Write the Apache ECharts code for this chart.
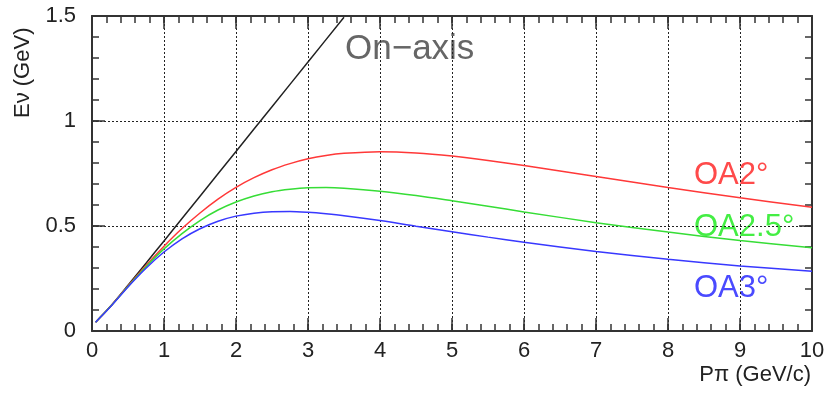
<!DOCTYPE html>
<html>
<head>
<meta charset="utf-8">
<script src="https://cdn.jsdelivr.net/npm/echarts@6/dist/echarts.min.js"></script>
<style>
  html, body { margin: 0; padding: 0; background: #fff; }
  #chart { width: 828px; height: 394px; }
</style>
</head>
<body>
<div id="chart"></div>
<script>
// pion momentum (GeV/c) sampled along the curves
const pion = [0.05, 0.25, 0.5, 0.75, 1, 1.25, 1.5, 1.75, 2, 2.25, 2.5, 2.75, 3, 3.25, 3.5, 4, 4.5, 5, 5.5, 6, 7, 8, 9, 10];
// neutrino energy (GeV) for each off-axis angle
const oa2 = [0.042, 0.114, 0.214, 0.312, 0.404, 0.488, 0.562, 0.628, 0.684, 0.730, 0.768, 0.797, 0.820, 0.836, 0.846, 0.854, 0.848, 0.833, 0.812, 0.788, 0.736, 0.683, 0.634, 0.589];
const oa25 = [0.042, 0.114, 0.212, 0.306, 0.391, 0.464, 0.526, 0.576, 0.614, 0.643, 0.663, 0.675, 0.682, 0.683, 0.680, 0.666, 0.645, 0.620, 0.594, 0.567, 0.516, 0.471, 0.431, 0.396];
const oa3 = [0.042, 0.113, 0.210, 0.299, 0.376, 0.439, 0.487, 0.523, 0.547, 0.561, 0.568, 0.569, 0.565, 0.558, 0.549, 0.526, 0.499, 0.473, 0.447, 0.423, 0.379, 0.342, 0.310, 0.284];
// on-axis line, until it leaves the frame
const pionOn = [0.05, 0.25, 0.5, 0.75, 1, 1.5, 2, 2.5, 3, 3.5];
const onAxis = [0.042, 0.115, 0.218, 0.323, 0.429, 0.642, 0.855, 1.068, 1.281, 1.494];

const xRange = [0, 10];
const yRange = [0, 1.5];

const font = '"Liberation Sans", Arial, sans-serif';
const frame = '#333';
const L = 92, R = 16, T = 16, B = 63;

function pairs(xs, ys) {
  return xs.map((x, i) => [x, ys[i]]);
}

const grids = [{ left: L, right: R, top: T, bottom: B }];
const xAxes = [
  {
    gridIndex: 0, type: 'value', position: 'bottom', min: xRange[0], max: xRange[1], interval: 1,
    axisLine: { show: true, onZero: false, lineStyle: { color: frame, width: 2 } },
    axisTick: { show: false },
    axisLabel: { color: '#222', fontFamily: font, fontSize: 22, margin: 9 },
    splitLine: { show: true, lineStyle: { color: '#222', type: [2, 2], width: 1 } }
  },
  {
    gridIndex: 0, type: 'value', position: 'top', min: xRange[0], max: xRange[1], interval: 1,
    axisLine: { show: true, onZero: false, lineStyle: { color: frame, width: 2 } },
    axisTick: { show: false }, axisLabel: { show: false }, splitLine: { show: false }
  }
];
const yAxes = [
  {
    gridIndex: 0, type: 'value', position: 'left', min: yRange[0], max: yRange[1], interval: 0.5,
    axisLine: { show: true, onZero: false, lineStyle: { color: frame, width: 2 } },
    axisTick: { show: false },
    axisLabel: { color: '#222', fontFamily: font, fontSize: 22, margin: 16 },
    splitLine: { show: true, lineStyle: { color: '#222', type: [2, 2], width: 1 } }
  },
  {
    gridIndex: 0, type: 'value', position: 'right', min: yRange[0], max: yRange[1], interval: 0.5,
    axisLine: { show: true, onZero: false, lineStyle: { color: frame, width: 2 } },
    axisTick: { show: false }, axisLabel: { show: false }, splitLine: { show: false }
  }
];

// tick marks: thin strips along each side of the frame whose split lines act as ticks
function tickAxis(gi, range, interval) {
  return {
    gridIndex: gi, type: 'value', min: range[0], max: range[1], interval: interval,
    axisLine: { show: false }, axisTick: { show: false }, axisLabel: { show: false },
    splitLine: { show: true, lineStyle: { color: frame, width: 1.5, type: 'solid' } }
  };
}
function hiddenAxis(gi) {
  return { gridIndex: gi, type: 'value', show: false, min: 0, max: 1 };
}
function addStrip(side, len, interval) {
  const gi = grids.length;
  if (side === 'bottom') grids.push({ left: L, right: R, bottom: B, height: len });
  if (side === 'top') grids.push({ left: L, right: R, top: T, height: len });
  if (side === 'left') grids.push({ left: L, width: len, top: T, bottom: B });
  if (side === 'right') grids.push({ right: R, width: len, top: T, bottom: B });
  if (side === 'bottom' || side === 'top') {
    xAxes.push(tickAxis(gi, xRange, interval));
    yAxes.push(hiddenAxis(gi));
  } else {
    xAxes.push(hiddenAxis(gi));
    yAxes.push(tickAxis(gi, yRange, interval));
  }
}
['bottom', 'top'].forEach(s => { addStrip(s, 7, 0.2); addStrip(s, 13, 1); });
['left', 'right'].forEach(s => { addStrip(s, 7, 0.1); addStrip(s, 13, 0.5); });

const chart = echarts.init(document.getElementById('chart'));

chart.setOption({
  animation: false,
  grid: grids,
  xAxis: xAxes,
  yAxis: yAxes,
  series: [
    {
      name: 'On-axis', type: 'line', data: pairs(pionOn, onAxis),
      showSymbol: false, smooth: 0.3,
      lineStyle: { color: '#222', width: 1.5 }
    },
    {
      name: 'OA2°', type: 'line', data: pairs(pion, oa2),
      showSymbol: false, smooth: 0.3,
      lineStyle: { color: '#ff3838', width: 1.5 }
    },
    {
      name: 'OA2.5°', type: 'line', data: pairs(pion, oa25),
      showSymbol: false, smooth: 0.3,
      lineStyle: { color: '#36dd36', width: 1.5 }
    },
    {
      name: 'OA3°', type: 'line', data: pairs(pion, oa3),
      showSymbol: false, smooth: 0.3,
      lineStyle: { color: '#3838ff', width: 1.5 }
    }
  ],
  graphic: [
    {
      type: 'text', x: 345, y: 49,
      style: { text: 'On\u2212axis', fill: '#666', font: '35px ' + font, textVerticalAlign: 'middle' }
    },
    {
      type: 'text', x: 694, y: 175,
      style: { text: 'OA2°', fill: '#ff4a4a', font: '31px ' + font, textVerticalAlign: 'middle' }
    },
    {
      type: 'text', x: 694, y: 227,
      style: { text: 'OA2.5°', fill: '#44ee44', font: '31px ' + font, textVerticalAlign: 'middle' }
    },
    {
      type: 'text', x: 694, y: 288,
      style: { text: 'OA3°', fill: '#4a4aff', font: '31px ' + font, textVerticalAlign: 'middle' }
    },
    {
      type: 'text', x: 12, y: 118, rotation: Math.PI / 2,
      style: { text: 'E\u03bd (GeV)', fill: '#222', font: '22px ' + font }
    },
    {
      type: 'text', right: 17, top: 364,
      style: { text: 'P\u03c0 (GeV/c)', fill: '#222', font: '22px ' + font }
    }
  ]
});
window.addEventListener('resize', () => chart.resize());
</script>
</body>
</html>
